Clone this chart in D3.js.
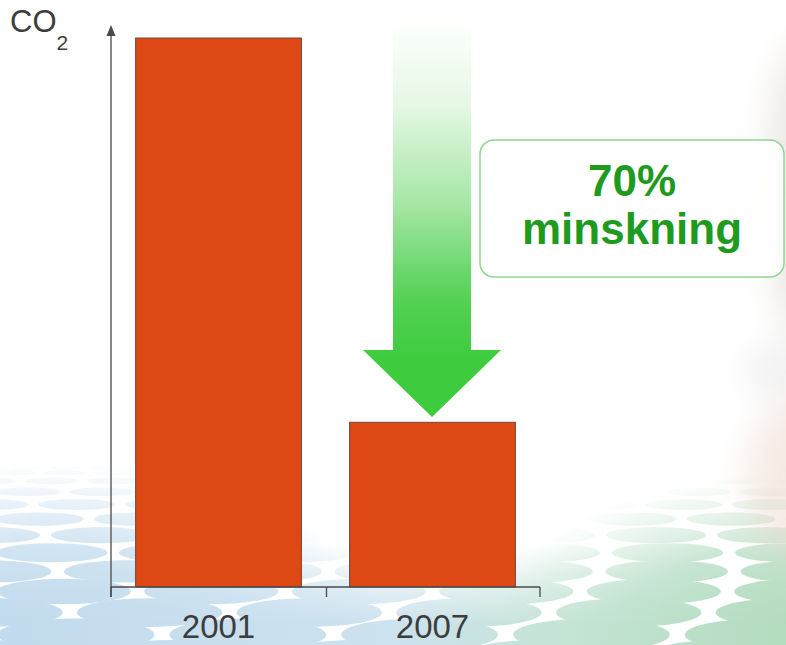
<!DOCTYPE html>
<html>
<head>
<meta charset="utf-8">
<script src="https://cdn.jsdelivr.net/npm/d3@7/dist/d3.min.js"></script>
<style>
  html, body { margin: 0; padding: 0; background: #ffffff; }
  svg { display: block; }
</style>
</head>
<body>
<div id="chart"></div>
<script>
// ---- data ----
const categories = ["2001", "2007"];
const values = [100, 30];           // relative CO2 emissions (index, 2001 = 100)
const yAxisLabel = "CO";
const yAxisSub = "2";
const calloutLines = ["70%", "minskning"];

// ---- layout ----
const W = 786, H = 645;
const svg = d3.select("#chart").append("svg").attr("width", W).attr("height", H);
const defs = svg.append("defs");

// ---- background decoration ----
svg.append("rect").attr("width", W).attr("height", H).attr("fill", "#ffffff");

const hGrad = defs.append("linearGradient").attr("id", "dotGrad")
  .attr("gradientUnits", "userSpaceOnUse").attr("x1", 0).attr("y1", 0).attr("x2", W).attr("y2", 0);
hGrad.append("stop").attr("offset", "0%").attr("stop-color", "#c2dbee");
hGrad.append("stop").attr("offset", "50%").attr("stop-color", "#cce2ee");
hGrad.append("stop").attr("offset", "72%").attr("stop-color", "#c4e4d4");
hGrad.append("stop").attr("offset", "100%").attr("stop-color", "#b3dcbf");

const vMaskGrad = defs.append("linearGradient").attr("id", "vMaskGrad")
  .attr("gradientUnits", "userSpaceOnUse").attr("x1", 0).attr("y1", 545).attr("x2", 0).attr("y2", 625);
vMaskGrad.append("stop").attr("offset", "0%").attr("stop-color", "#000");
vMaskGrad.append("stop").attr("offset", "100%").attr("stop-color", "#fff");
const cornerGrad = defs.append("radialGradient").attr("id", "cornerGrad");
cornerGrad.append("stop").attr("offset", "0%").attr("stop-color", "#fff").attr("stop-opacity", 1);
cornerGrad.append("stop").attr("offset", "55%").attr("stop-color", "#fff").attr("stop-opacity", 0.75);
cornerGrad.append("stop").attr("offset", "100%").attr("stop-color", "#fff").attr("stop-opacity", 0);
const mask = defs.append("mask").attr("id", "dotMask").attr("maskUnits", "userSpaceOnUse")
  .attr("x", 0).attr("y", 0).attr("width", W).attr("height", H);
mask.append("rect").attr("width", W).attr("height", H).attr("fill", "url(#vMaskGrad)");
mask.append("ellipse").attr("cx", 60).attr("cy", 650).attr("rx", 340).attr("ry", 190).attr("fill", "url(#cornerGrad)");
mask.append("ellipse").attr("cx", 760).attr("cy", 655).attr("rx", 280).attr("ry", 180).attr("fill", "url(#cornerGrad)");

const dots = svg.append("g").attr("mask", "url(#dotMask)");
const rows = d3.range(0, 1.0001, 1 / 12);
rows.forEach((t, i) => {
  const y = 468 + 190 * Math.pow(t, 1.5);
  const ry = 2 + 16 * Math.pow(t, 1.4);
  const rx = 16 + 68 * t;
  const gap = rx * 2 + 6 + 10 * t;
  const off = (i % 2) * gap / 2 - 10;
  for (let x = off; x < W + rx; x += gap) {
    dots.append("ellipse").attr("cx", x).attr("cy", y).attr("rx", rx).attr("ry", ry)
      .attr("fill", "url(#dotGrad)");
  }
});

// blurred photo hint at right edge
const blur = defs.append("filter").attr("id", "blur").attr("x", "-50%").attr("y", "-50%").attr("width", "200%").attr("height", "200%");
blur.append("feGaussianBlur").attr("stdDeviation", 16);
const photo = svg.append("g").attr("filter", "url(#blur)").attr("opacity", 0.4);
photo.append("ellipse").attr("cx", 805).attr("cy", 190).attr("rx", 40).attr("ry", 150).attr("fill", "#cfcac0");
photo.append("ellipse").attr("cx", 800).attr("cy", 480).attr("rx", 55).attr("ry", 80).attr("fill", "#e8cfc0");
photo.append("ellipse").attr("cx", 790).attr("cy", 370).attr("rx", 45).attr("ry", 30).attr("fill", "#dedede");

// ---- scales ----
const x = d3.scaleBand().domain(categories).range([111, 540])
  .paddingInner(0.225).paddingOuter(0.115);
const y = d3.scaleLinear().domain([0, 100]).range([587, 38]);
const x0 = 111, x1 = 540, y0 = y(0);

// ---- bars ----
svg.append("g").selectAll("rect").data(categories).join("rect")
  .attr("x", d => x(d))
  .attr("y", (d, i) => y(values[i]))
  .attr("width", x.bandwidth())
  .attr("height", (d, i) => y(0) - y(values[i]))
  .attr("fill", "#dd4814")
  .attr("stroke", "#6e4a3a")
  .attr("stroke-width", 1);

// ---- axes ----
const axisColor = "#4a4a4a";
svg.append("line").attr("x1", x0).attr("x2", x0).attr("y1", y0 + 10).attr("y2", 33)
  .attr("stroke", axisColor).attr("stroke-width", 1.3);
svg.append("path").attr("d", `M${x0},25 L${x0 - 4.5},36 L${x0 + 4.5},36 Z`).attr("fill", axisColor);

const xAxis = d3.axisBottom(x).tickSize(0).tickPadding(0);
const gx = svg.append("g").attr("transform", `translate(0,${y0})`).call(xAxis);
gx.select(".domain").remove();
gx.selectAll("text")
  .attr("y", 51)
  .attr("dy", 0)
  .attr("font-family", "'Liberation Sans', Arial, sans-serif")
  .attr("font-size", 33)
  .attr("fill", "#3d3d3d");
svg.append("line").attr("x1", x0).attr("x2", x1).attr("y1", y0).attr("y2", y0)
  .attr("stroke", axisColor).attr("stroke-width", 1.3);
const step = x.step();
const boundaries = [x0].concat(categories.map(d => Math.min(x1, x(d) + x.bandwidth() + step * x.paddingInner() / 2 + 1)));
boundaries[boundaries.length - 1] = x1;
svg.append("g").selectAll("line").data(boundaries).join("line")
  .attr("x1", d => d).attr("x2", d => d).attr("y1", y0).attr("y2", y0 + 10)
  .attr("stroke", axisColor).attr("stroke-width", 1.3);

// y label CO2
const lab = svg.append("text").attr("x", 10).attr("y", 32)
  .attr("font-family", "'Liberation Sans', Arial, sans-serif")
  .attr("font-size", 31).attr("fill", "#3d3d3d");
lab.append("tspan").text(yAxisLabel);
lab.append("tspan").attr("font-size", 21).attr("dy", 18).attr("dx", 0).text(yAxisSub);

// ---- green arrow ----
const ag = defs.append("linearGradient").attr("id", "arrowGrad")
  .attr("gradientUnits", "userSpaceOnUse").attr("x1", 0).attr("y1", 18).attr("x2", 0).attr("y2", 360);
ag.append("stop").attr("offset", "0%").attr("stop-color", "#ffffff");
ag.append("stop").attr("offset", "25%").attr("stop-color", "#e6f8e6");
ag.append("stop").attr("offset", "55%").attr("stop-color", "#a4e6a4");
ag.append("stop").attr("offset", "82%").attr("stop-color", "#55d155");
ag.append("stop").attr("offset", "100%").attr("stop-color", "#3ecb3e");
const ax = 432;
const arrowTop = 18, shaftHalf = 39, headBase = 350, headHalf = 69, tipY = 417;
svg.append("path")
  .attr("d", `M${ax - shaftHalf},${arrowTop} L${ax + shaftHalf},${arrowTop} L${ax + shaftHalf},${headBase}
              L${ax + headHalf},${headBase} L${ax},${tipY} L${ax - headHalf},${headBase}
              L${ax - shaftHalf},${headBase} Z`)
  .attr("fill", "url(#arrowGrad)");

// ---- callout box ----
svg.append("rect").attr("x", 480).attr("y", 140).attr("width", 304).attr("height", 137)
  .attr("rx", 14).attr("ry", 14)
  .attr("fill", "#ffffff").attr("fill-opacity", 0.92)
  .attr("stroke", "#8fd68f").attr("stroke-width", 1.5);

const ct = svg.append("g")
  .attr("font-family", "'Liberation Sans', Arial, sans-serif")
  .attr("font-weight", "bold").attr("fill", "#1e9a1e").attr("text-anchor", "middle");
ct.append("text").attr("x", 632).attr("y", 196).attr("font-size", 44).text(calloutLines[0]);
ct.append("text").attr("x", 632).attr("y", 244).attr("font-size", 44).text(calloutLines[1]);
</script>
</body>
</html>
